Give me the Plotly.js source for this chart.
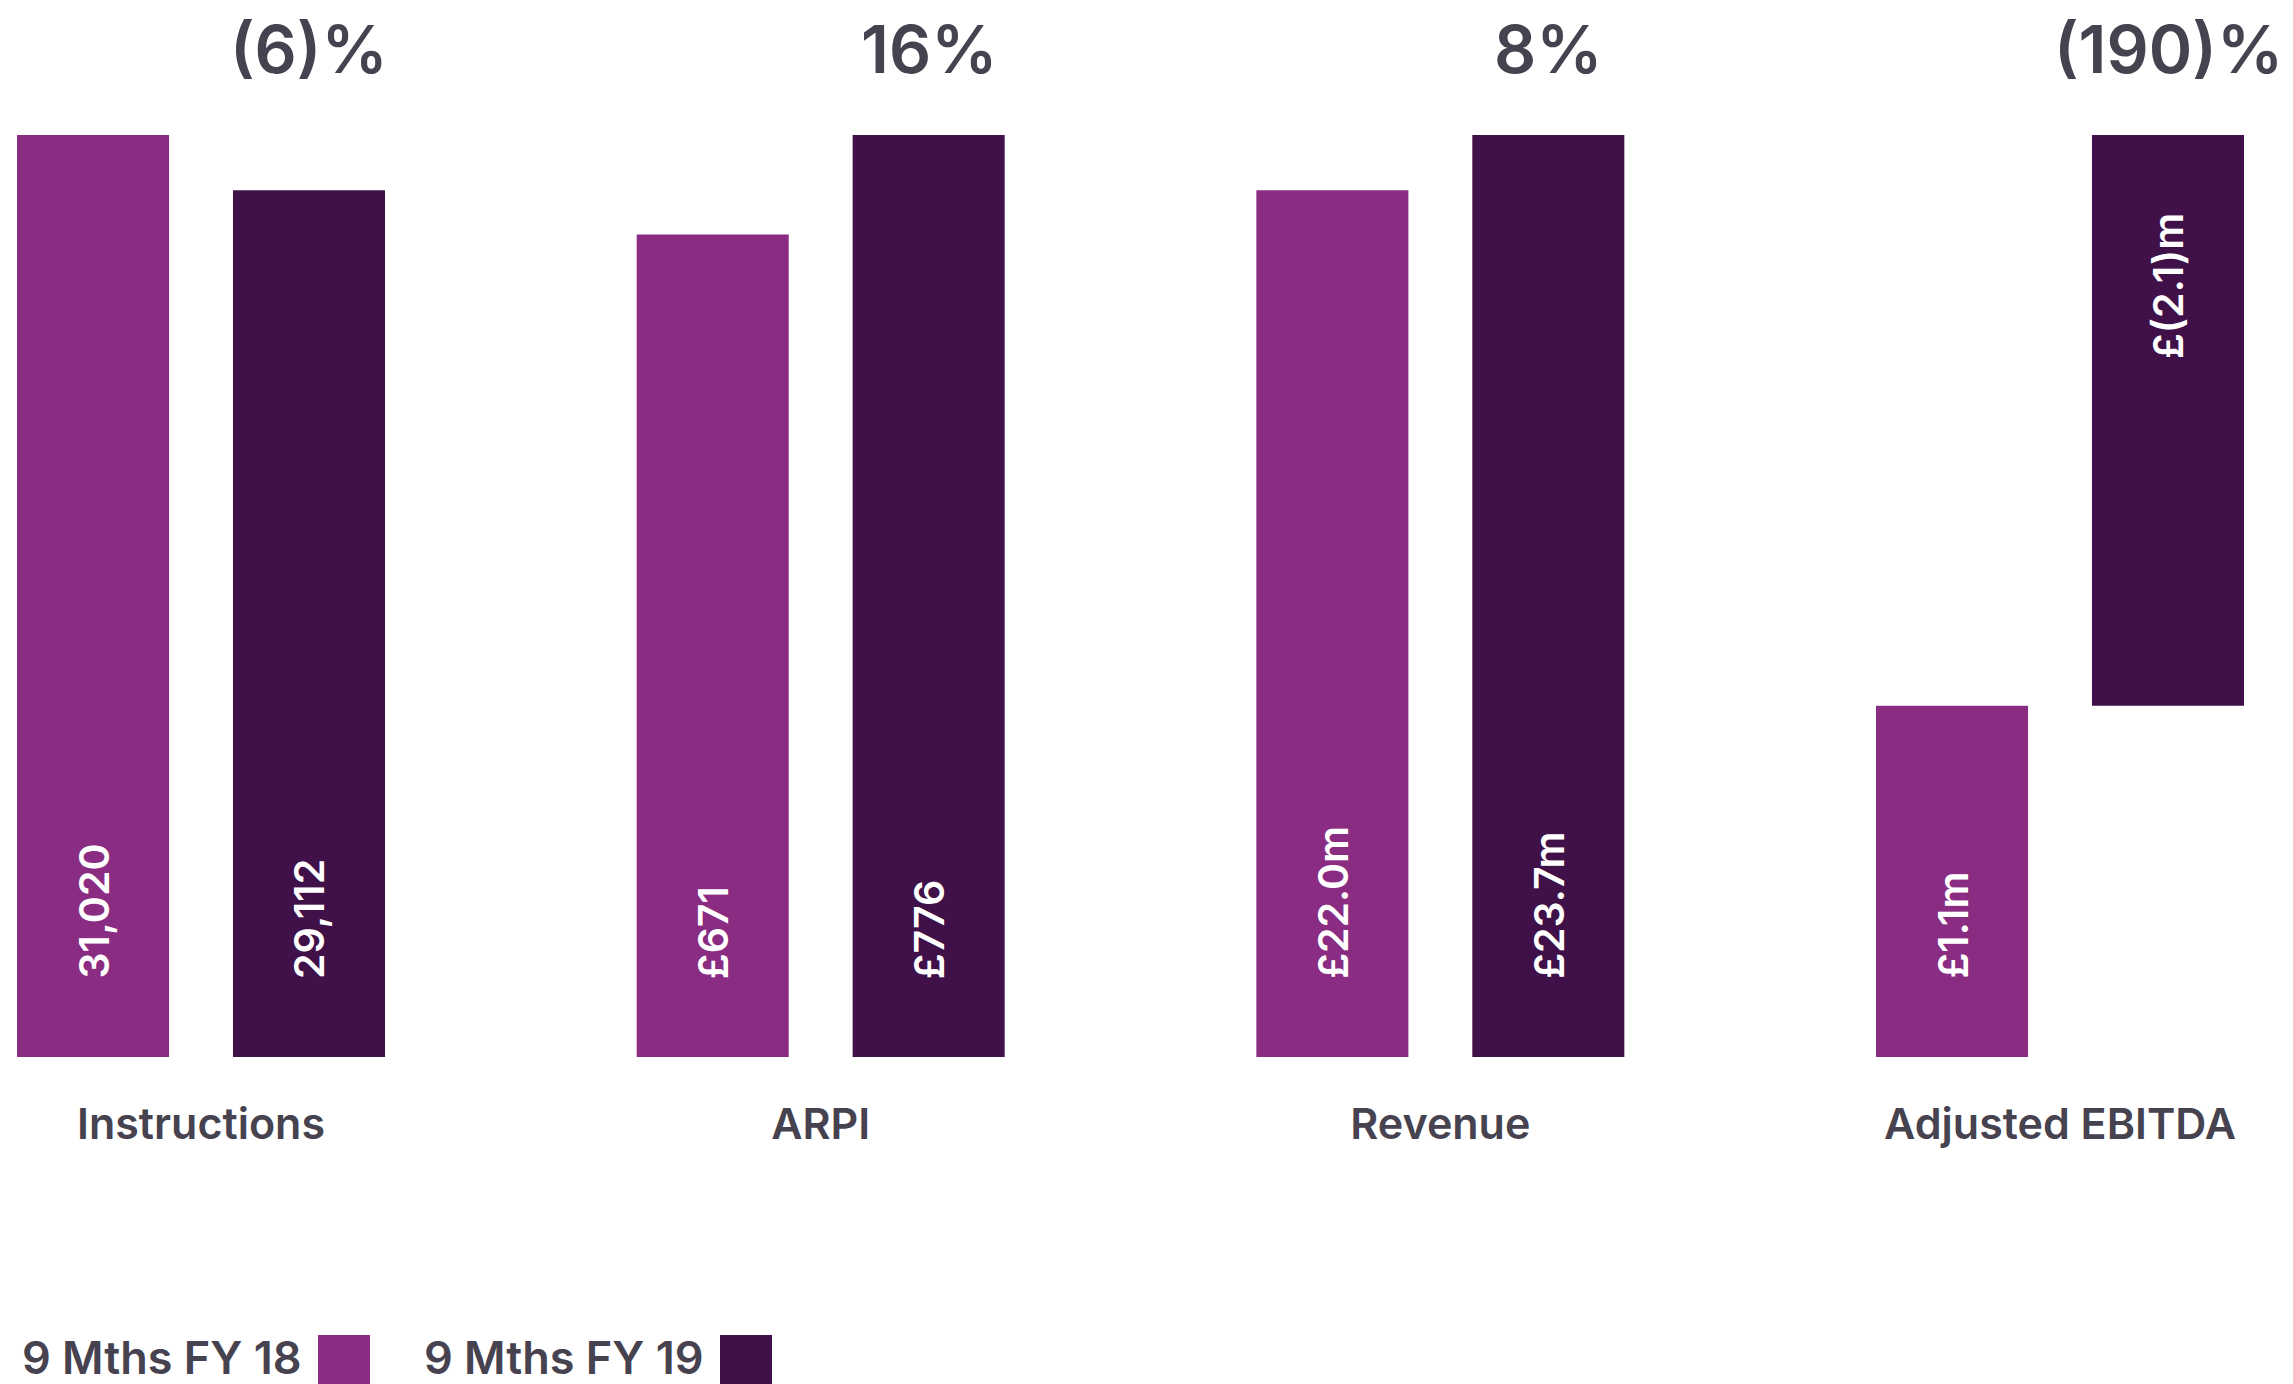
<!DOCTYPE html>
<html>
<head>
<meta charset="utf-8">
<script src="https://cdn.plot.ly/plotly-3.0.1.min.js"></script>
<style>
  html, body { margin: 0; padding: 0; background: #ffffff; }
  #chart { width: 2293px; height: 1384px; }
</style>
</head>
<body>
<div id="chart"></div>
<script>
// ---- Data (bar heights are relative, tallest bar in a group = 100) ----
const categories = ['Instructions', 'ARPI', 'Revenue', 'Adjusted EBITDA'];
const seriesNames = ['9 Mths FY 18', '9 Mths FY 19'];
const fy18Height = [100, 89.2, 94.0, 38.1];
const fy19Height = [94.0, 100, 100, 61.9];
const fy19Base = [0, 0, 0, 38.1];
const fy18Labels = ['31,020', '£671', '£22.0m', '£1.1m'];
const fy19Labels = ['29,112', '£776', '£23.7m', '£(2.1)m'];
const changeLabels = ['(6)%', '16%', '8%', '(190)%'];

// ---- Style ----
const W = 2293, H = 1384;
const M = { l: 0, r: 0, t: 135, b: 327 };
const plotH = H - M.t - M.b;
const FONT = 'Inter, "Open Sans", sans-serif';
const TEXT = '#46424f';
const C18 = '#8a2c82';
const C19 = '#401048';
const OFF = 0.1743; // bar centre offset in category units

const traces = [
  { type: 'bar', name: seriesNames[0], x: categories, y: fy18Height,
    marker: { color: C18 }, hoverinfo: 'skip' },
  { type: 'bar', name: seriesNames[1], x: categories, y: fy19Height, base: fy19Base,
    marker: { color: C19 }, hoverinfo: 'skip' }
];

const valueFont = { family: FONT, size: 41, color: '#ffffff', weight: 600 };
const annotations = [];
categories.forEach((c, i) => {
  // value labels inside bars (rotated)
  annotations.push({
    xref: 'x', yref: 'y', x: i - OFF, y: 0, yanchor: 'bottom', xanchor: 'center',
    yshift: 76, textangle: -90, showarrow: false, text: fy18Labels[i], font: valueFont
  });
  const floating = fy19Base[i] > 0;
  annotations.push({
    xref: 'x', yref: 'y', x: i + OFF,
    y: floating ? fy19Base[i] + fy19Height[i] : fy19Base[i],
    yanchor: floating ? 'top' : 'bottom', xanchor: 'center',
    yshift: floating ? -76 : 76, textangle: -90, showarrow: false, text: fy19Labels[i],
    font: valueFont
  });
  // change labels on top
  annotations.push({
    xref: 'x', yref: 'paper', x: i + OFF, y: 1, yanchor: 'middle', xanchor: 'center',
    yshift: 86, showarrow: false, text: changeLabels[i],
    font: { family: FONT, size: 66, color: TEXT, weight: 600 }
  });
});

// custom legend: text followed by swatch
const legendItems = [
  { name: seriesNames[0], color: C18, sx0: 318, sx1: 370 },
  { name: seriesNames[1], color: C19, sx0: 720, sx1: 772 }
];
const shapes = [];
const py = (p) => (H - M.b - p) / plotH; // pixel y -> paper y
legendItems.forEach(it => {
  shapes.push({ type: 'rect', xref: 'paper', yref: 'paper',
    x0: it.sx0 / W, x1: it.sx1 / W, y0: py(1335), y1: py(1390),
    fillcolor: it.color, line: { width: 0 }, layer: 'above' });
  annotations.push({ xref: 'paper', yref: 'paper', x: (it.sx0 - 14) / W, y: py(1357),
    xanchor: 'right', yanchor: 'middle', showarrow: false, text: it.name,
    font: { family: FONT, size: 45, color: TEXT, weight: 600 } });
});

const layout = {
  width: W, height: H,
  margin: M,
  paper_bgcolor: '#ffffff', plot_bgcolor: '#ffffff',
  showlegend: false,
  barmode: 'group', bargap: 0.303, bargroupgap: 0.296,
  xaxis: {
    type: 'category', range: [-0.3244, 3.376],
    showgrid: false, zeroline: false, showline: false, ticks: '',
    ticklabelstandoff: 38,
    tickfont: { family: FONT, size: 43, color: TEXT, weight: 600 }
  },
  yaxis: { range: [0, 100], visible: false, showgrid: false, zeroline: false },
  annotations: annotations,
  shapes: shapes
};

Plotly.newPlot('chart', traces, layout, { staticPlot: true, displayModeBar: false });
</script>
</body>
</html>
